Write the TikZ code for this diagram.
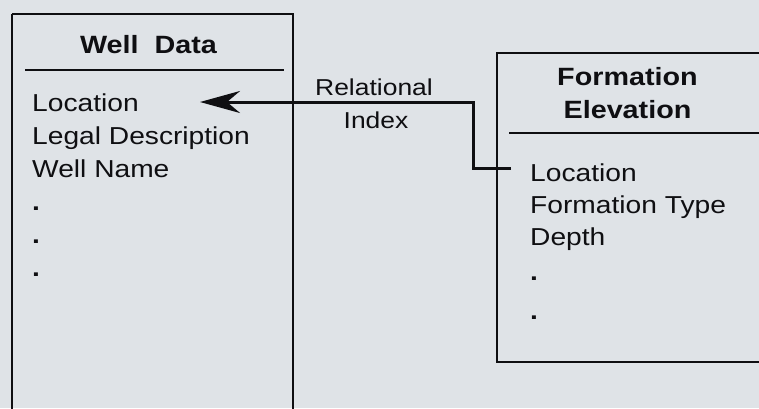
\documentclass[tikz,border=0pt]{standalone}
\usepackage{fontspec}
\setmainfont{Liberation Sans}[FakeStretch=1.15]
\usetikzlibrary{arrows.meta}
\definecolor{paper}{rgb}{0.875,0.89,0.905}
\definecolor{ink}{rgb}{0.06,0.06,0.07}
\tikzset{
  item/.style={anchor=base west, inner sep=0pt, text=ink, font=\fontsize{24.5}{28}\selectfont},
  title/.style={anchor=base, inner sep=0pt, text=ink, font=\fontsize{25}{28}\selectfont\bfseries},
  label/.style={anchor=base, inner sep=0pt, text=ink, font=\fontsize{23}{28}\selectfont},
  frame/.style={draw=ink, line width=2.2pt},
  rule/.style={draw=ink, line width=1.8pt},
  link/.style={draw=ink, line width=3pt, -{Stealth[length=40pt, width=22pt, inset=13pt]}}
}
\begin{document}
\begin{tikzpicture}[x=1pt, y=-1pt]
\useasboundingbox (0,0) rectangle (759,408);
\clip (0,0) rectangle (759,408);
\fill[paper] (0,0) rectangle (759,408);
% Well Data box
\draw[frame] (12,14) -- (293,14) -- (293,420) (12,14) -- (12,420);
\node[title] (wdt) at (148.5,53) {Well\ \ Data};
\draw[rule] (25,70) -- (284,70);
\node[item] (wloc) at (32,111) {Location};
\node[item] (wlegal) at (32,144) {Legal Description};
\node[item] (wname) at (32,177) {Well Name};
\node[item] (wd1) at (32,210) {\bfseries .};
\node[item] (wd2) at (32,243) {\bfseries .};
\node[item] (wd3) at (32,276) {\bfseries .};
% Formation Elevation box
\draw[frame] (770,53) -- (497,53) -- (497,362) -- (770,362);
\node[title] (ft1) at (627.5,85) {Formation};
\node[title] (ft2) at (627.5,118) {Elevation};
\draw[rule] (509,133) -- (770,133);
\node[item] (floc) at (530,181) {Location};
\node[item] (ftype) at (530,213) {Formation Type};
\node[item] (fdepth) at (530,245) {Depth};
\node[item] (fd1) at (530,280) {\bfseries .};
\node[item] (fd2) at (530,319) {\bfseries .};
% relational index
\coordinate (start) at (511,168);
\coordinate (tip) at (200,102);
\draw[link] (start) -- (473,168) -- (473,102) -- (tip);
\node[label] (rel) at (374,95) {Relational};
\node[label] (idx) at (376,128) {Index};
\end{tikzpicture}
\end{document}
